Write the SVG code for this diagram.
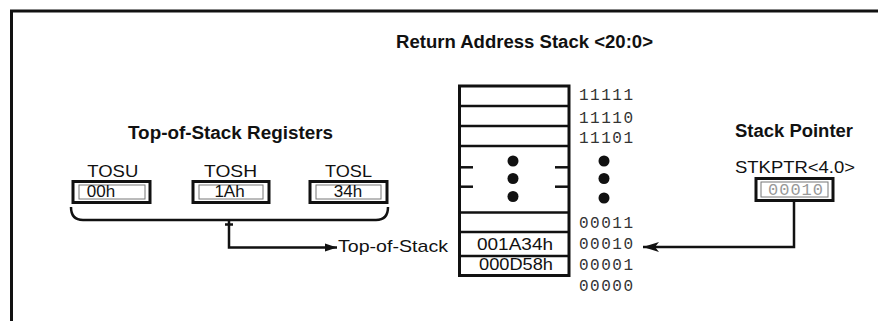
<svg xmlns="http://www.w3.org/2000/svg" width="878" height="321" viewBox="0 0 878 321">
<defs>
<style>
.t{font-family:"Liberation Sans",Arial,sans-serif;fill:#111}
.b{font-weight:bold;font-size:18px}
.r{font-size:17px}
.m{font-family:"Liberation Mono","Courier New",monospace;font-size:16px;fill:#333}
.ln{stroke:#111;fill:none;stroke-width:2.5}
.box{fill:#fff;stroke:#111;stroke-width:3}
.inner{fill:none;stroke:#777;stroke-width:1}
.dot{fill:#111}
</style>
<marker id="ah" viewBox="0 0 12 10" refX="12" refY="5" markerWidth="12" markerHeight="10" markerUnits="userSpaceOnUse" orient="auto">
<path d="M0,1 L12,5 L0,9 Z" fill="#111"/>
</marker>
<marker id="ah2" viewBox="0 0 16 12" refX="16" refY="6" markerWidth="16" markerHeight="12" markerUnits="userSpaceOnUse" orient="auto">
<path d="M0,1 L16,6 L0,11 L4,6 Z" fill="#111"/>
</marker>
</defs>
<rect width="878" height="321" fill="#fff"/>
<g id="frame">
<line x1="10" y1="11" x2="878" y2="11" stroke="#111" stroke-width="3"/>
<line x1="11.5" y1="10" x2="11.5" y2="321" stroke="#111" stroke-width="3"/>
</g>
<g id="title">
<text class="t b" x="396" y="48" textLength="257" lengthAdjust="spacingAndGlyphs">Return Address Stack &lt;20:0&gt;</text>
</g>
<g id="tos-registers">
<text class="t b" x="128" y="139" textLength="205" lengthAdjust="spacingAndGlyphs">Top-of-Stack Registers</text>
</g>
<g id="tosu">
<text class="t r" x="112.8" y="177" text-anchor="middle" textLength="51" lengthAdjust="spacingAndGlyphs">TOSU</text>
<rect class="box" x="73" y="181.5" width="77" height="21"/>
<rect class="inner" x="79" y="185" width="66" height="14"/>
<text class="t r" x="101" y="197" text-anchor="middle">00h</text>
</g>
<g id="tosh">
<text class="t r" x="230.5" y="177" text-anchor="middle" textLength="53" lengthAdjust="spacingAndGlyphs">TOSH</text>
<rect class="box" x="193" y="181.5" width="76" height="21"/>
<rect class="inner" x="199" y="185" width="64" height="14"/>
<text class="t r" x="229.5" y="197" text-anchor="middle">1Ah</text>
</g>
<g id="tosl">
<text class="t r" x="348.5" y="177" text-anchor="middle" textLength="47" lengthAdjust="spacingAndGlyphs">TOSL</text>
<rect class="box" x="310" y="181.5" width="77" height="21"/>
<rect class="inner" x="316" y="185" width="65" height="14"/>
<text class="t r" x="348" y="197" text-anchor="middle">34h</text>
</g>
<g id="stack">
<rect x="459.5" y="86" width="109.5" height="189.5" fill="#fff" stroke="#111" stroke-width="3"/>
<line class="ln" x1="459.5" y1="106" x2="569" y2="106" stroke-width="3"/>
<line class="ln" x1="459.5" y1="126" x2="569" y2="126" stroke-width="3"/>
<line class="ln" x1="459.5" y1="146" x2="569" y2="146" stroke-width="3"/>
<line class="ln" x1="459.5" y1="212.5" x2="569" y2="212.5"/>
<line class="ln" x1="459.5" y1="232" x2="569" y2="232" stroke-width="3.5"/>
<line class="ln" x1="459.5" y1="256" x2="569" y2="256"/>
<line class="ln" x1="459.5" y1="167.3" x2="473" y2="167.3" stroke-width="3"/>
<line class="ln" x1="459.5" y1="186.7" x2="473" y2="186.7" stroke-width="3"/>
<line class="ln" x1="555" y1="167.3" x2="569" y2="167.3" stroke-width="3"/>
<line class="ln" x1="555" y1="186.7" x2="569" y2="186.7" stroke-width="3"/>
<circle class="dot" cx="513" cy="161" r="5.5"/>
<circle class="dot" cx="513" cy="178.5" r="5.5"/>
<circle class="dot" cx="513" cy="196.5" r="5.5"/>
<text class="t r" x="515" y="250" text-anchor="middle" textLength="76" lengthAdjust="spacingAndGlyphs">001A34h</text>
<text class="t r" x="516" y="270" text-anchor="middle" textLength="74" lengthAdjust="spacingAndGlyphs">000D58h</text>
<text class="m" x="579" y="100" textLength="54" lengthAdjust="spacing">11111</text>
<text class="m" x="579" y="123" textLength="54" lengthAdjust="spacing">11110</text>
<text class="m" x="579" y="142.5" textLength="54" lengthAdjust="spacing">11101</text>
<circle class="dot" cx="604" cy="161" r="5.5"/>
<circle class="dot" cx="604" cy="178.5" r="5.5"/>
<circle class="dot" cx="604" cy="198" r="5.5"/>
<text class="m" x="579" y="227.5" textLength="54" lengthAdjust="spacing">00011</text>
<text class="m" x="579" y="249" textLength="54" lengthAdjust="spacing">00010</text>
<text class="m" x="579" y="270" textLength="54" lengthAdjust="spacing">00001</text>
<text class="m" x="579" y="290.5" textLength="54" lengthAdjust="spacing">00000</text>
</g>
<g id="top-of-stack-label">
<text class="t r" x="338" y="252" textLength="110" lengthAdjust="spacingAndGlyphs">Top-of-Stack</text>
</g>
<g id="stkptr">
<text class="t b" x="735" y="137" textLength="118" lengthAdjust="spacingAndGlyphs">Stack Pointer</text>
<text class="t r" x="735" y="173" textLength="120" lengthAdjust="spacingAndGlyphs">STKPTR&lt;4.0&gt;</text>
<rect class="box" x="756" y="178.5" width="77" height="22"/>
<rect class="inner" x="761" y="182" width="67" height="15"/>
<text class="m" x="768" y="195" textLength="55" lengthAdjust="spacing" style="fill:#999;font-size:17px">00010</text>
</g>
<g id="connectors">
<path class="ln" d="M71,207 Q71,220 83,220 L376,220 Q388,220 388,207"/>
<line class="ln" x1="225" y1="224.5" x2="233" y2="224.5" stroke-width="2"/>
<path class="ln" d="M229,220 L229,247.5 L337,247.5" stroke-width="3" marker-end="url(#ah)"/>
<path class="ln" d="M794,200.5 L794,247 L643,247" stroke-width="3" marker-end="url(#ah2)"/>
</g>
</svg>
